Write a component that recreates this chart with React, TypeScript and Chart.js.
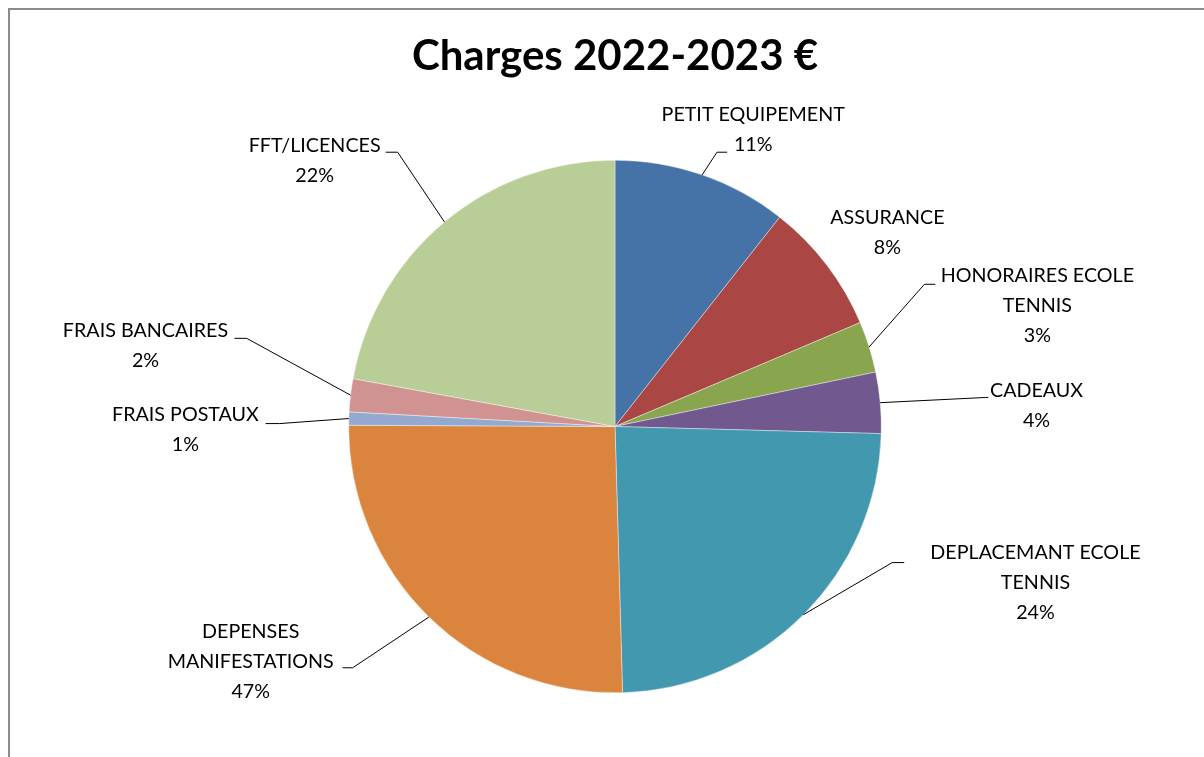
import React, { useEffect, useRef } from "react";
import { Chart, registerables } from "chart.js";

Chart.register(...registerables);

const TITLE = "Charges 2022-2023 €";
const categories = [
  "PETIT EQUIPEMENT",
  "ASSURANCE",
  "HONORAIRES ECOLE\nTENNIS",
  "CADEAUX",
  "DEPLACEMANT ECOLE\nTENNIS",
  "DEPENSES\nMANIFESTATIONS",
  "FRAIS POSTAUX",
  "FRAIS BANCAIRES",
  "FFT/LICENCES",
];
const values = [10.6, 8.0, 3.1, 3.7, 24.1, 25.5, 0.8, 2.0, 22.1];
const percentLabels = ["11%", "8%", "3%", "4%", "24%", "47%", "1%", "2%", "22%"];
const colors = [
  "#4572A7",
  "#AA4643",
  "#89A54E",
  "#71588F",
  "#4198AF",
  "#DB843D",
  "#93A9CF",
  "#D19392",
  "#B9CD96",
];

// label layout, expressed in units of the pie radius relative to its centre
// [textX, textY, elbowX, elbowY, hookEndX] ; null elbow = no leader line
const labelLayout: (number | null)[][] = [
  [0.519, -1.115, 0.383, -1.03, 0.421],
  [1.023, -0.727, null, null, null],
  [1.586, -0.453, 1.162, -0.534, 1.203],
  [1.583, -0.079, 1.391, -0.109, 1.402],
  [1.579, 0.588, 1.041, 0.511, 1.086],
  [-1.368, 0.883, -0.985, 0.906, -1.023],
  [-1.613, 0.013, -1.259, -0.011, -1.312],
  [-1.763, -0.305, -1.383, -0.331, -1.429],
  [-1.128, -1.0, -0.816, -1.03, -0.861],
];

const FONT = "Lato, 'Noto Sans', sans-serif";

const decorPlugin = {
  id: "decor",
  beforeDraw(chart: any) {
    const ctx = chart.ctx;
    ctx.save();
    ctx.fillStyle = "#ffffff";
    ctx.fillRect(0, 0, chart.width, chart.height);
    ctx.fillStyle = "#8c8c8c";
    ctx.fillRect(8, 8, chart.width - 8, 2);
    ctx.fillRect(8, 8, 2, chart.height - 8);
    ctx.restore();
  },
  afterDraw(chart: any) {
    const ctx = chart.ctx;
    const meta = chart.getDatasetMeta(0);
    ctx.save();
    // title
    ctx.fillStyle = "#000";
    ctx.font = `bold 42px ${FONT}`;
    ctx.textAlign = "center";
    ctx.textBaseline = "alphabetic";
    const ca = chart.chartArea;
    const cx0 = (ca.left + ca.right) / 2;
    ctx.fillText(TITLE, cx0, 70);

    ctx.font = `19.7px ${FONT}`;
    ctx.textBaseline = "middle";
    ctx.lineWidth = 1;
    ctx.strokeStyle = "#000";
    const lineH = 30;
    meta.data.forEach((arc: any, i: number) => {
      const { x, y, startAngle, endAngle, outerRadius } = arc.getProps(
        ["x", "y", "startAngle", "endAngle", "outerRadius"],
        true
      );
      const r = outerRadius;
      const mid = (startAngle + endAngle) / 2;
      const px = x + Math.cos(mid) * r;
      const py = y + Math.sin(mid) * r;
      const L = labelLayout[i];
      if (L[2] !== null) {
        const ex = x + (L[2] as number) * r;
        const ey = y + (L[3] as number) * r;
        const hx = x + (L[4] as number) * r;
        ctx.beginPath();
        ctx.moveTo(px, py);
        ctx.lineTo(ex, ey);
        ctx.lineTo(hx, ey);
        ctx.stroke();
      }
      const lines = [...categories[i].split("\n"), percentLabels[i]];
      const tx = x + (L[0] as number) * r;
      const ty = y + (L[1] as number) * r;
      const top = ty - ((lines.length - 1) * lineH) / 2;
      lines.forEach((t, k) => ctx.fillText(t, tx, top + k * lineH));
    });
    ctx.restore();
  },
};

export default function App() {
  const ref = useRef<HTMLCanvasElement | null>(null);
  useEffect(() => {
    if (!ref.current) return;
    const chart = new Chart(ref.current, {
      type: "pie",
      data: {
        labels: categories,
        datasets: [
          {
            data: values,
            backgroundColor: colors,
            borderColor: "#ffffff",
            borderWidth: 0.4,
          },
        ],
      },
      options: {
        responsive: false,
        animation: false,
        layout: { padding: { top: 160, bottom: 64, left: 300, right: 274 } },
        plugins: {
          legend: { display: false },
          title: { display: false },
          tooltip: { enabled: false },
        },
      },
      plugins: [decorPlugin],
    });
    return () => chart.destroy();
  }, []);
  return (
    <div style={{ position: "fixed", left: 0, top: 0, width: 1204, height: 757 }}>
      <canvas ref={ref} width={1204} height={757} style={{ display: "block" }} />
    </div>
  );
}
